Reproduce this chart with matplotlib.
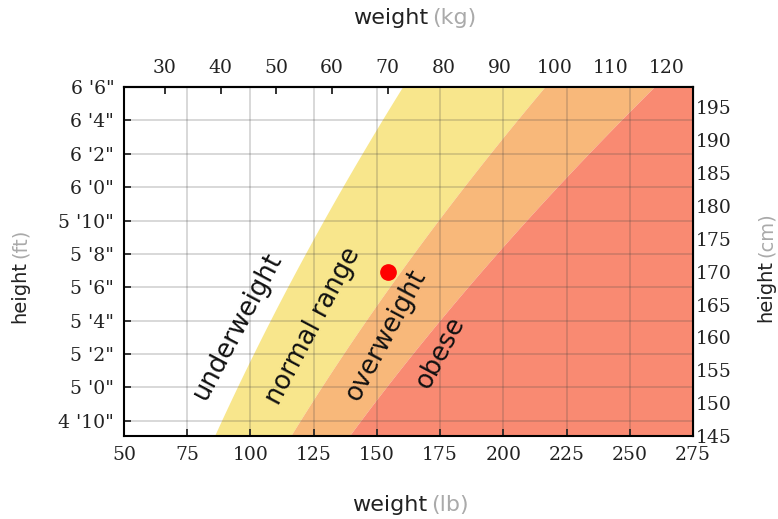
import numpy as np
import matplotlib.pyplot as plt

# BMI chart data
bmi_bounds = [18.5, 25, 30]
zone_names = ['underweight', 'normal range', 'overweight', 'obese']
zone_colors = ['#f8e68c', '#f8b87a', '#f98a72']

lb_ticks = [50, 75, 100, 125, 150, 175, 200, 225, 250, 275]
kg_ticks = [30, 40, 50, 60, 70, 80, 90, 100, 110, 120]
cm_ticks = [145, 150, 155, 160, 165, 170, 175, 180, 185, 190, 195]
inch_ticks = [58, 60, 62, 64, 66, 68, 70, 72, 74, 76, 78]

# the red dot: 70 kg, 170 cm
dot_kg = 70
dot_cm = 170

LB = 2.20462
fig = plt.figure(figsize=(7.78, 5.19), dpi=100, facecolor='white')
ax = fig.add_axes([124/778, 83/519, 569/778, 349/519])

ax.set_xlim(50, 275)
ax.set_ylim(145, 198.12)

# filled BMI zones (weight in lb as a function of height)
h = np.linspace(140, 200, 200)
m2 = (h / 100) ** 2
edges = [b * m2 * LB for b in bmi_bounds] + [np.full_like(h, 400)]
for i, c in enumerate(zone_colors):
    ax.fill_betweenx(h, edges[i], edges[i + 1], color=c, lw=0, zorder=1)

# grid: vertical at lb ticks, horizontal at ft/in ticks
for x in lb_ticks:
    ax.axvline(x, color='#444444', alpha=0.22, lw=1.3, zorder=2)
for i in inch_ticks:
    ax.axhline(i * 2.54, color='#444444', alpha=0.22, lw=1.3, zorder=2)

ax.plot(dot_kg * LB, dot_cm, 'o', color='#ff0000', ms=11, zorder=5)

# zone labels
label_pos = [(95.0, 161.8), (125.0, 161.8), (153.6, 160.4), (175.3, 157.7)]
for name, (x, y) in zip(zone_names, label_pos):
    ax.text(x, y, name, rotation=62, ha='center', va='center', fontsize=18.5,
            color='#111111', zorder=4)

serif = 'DejaVu Serif'
tfs = 13.5
ax.set_xticks(lb_ticks)
ax.set_xticklabels([str(v) for v in lb_ticks], family=serif, fontsize=tfs)
ax.set_yticks([i * 2.54 for i in inch_ticks])
ax.set_yticklabels([f"{i // 12} '{i % 12}\"" for i in inch_ticks], family=serif, fontsize=tfs)
ax.tick_params(direction='in', length=5, width=1.3, pad=7, colors='#222222')

top = ax.secondary_xaxis('top', functions=(lambda x: x / LB, lambda x: x * LB))
top.set_xticks(kg_ticks)
top.set_xticklabels([str(v) for v in kg_ticks], family=serif, fontsize=tfs)
top.tick_params(direction='in', length=5, width=1.3, pad=7, colors='#222222')

right = ax.secondary_yaxis('right')
right.set_yticks(cm_ticks)
right.set_yticklabels([str(v) for v in cm_ticks], family=serif, fontsize=tfs)
right.tick_params(direction='in', length=5, width=1.3, pad=2, colors='#222222')

for s in list(ax.spines.values()) + [top.spines['top'], right.spines['right']]:
    s.set_linewidth(1.5)

# axis titles, gray units
fs = 16
fig.text(428/778, 1 - 18/519, 'weight', ha='right', va='center', fontsize=fs, color='#222222')
fig.text(432/778, 1 - 18/519, '(kg)', ha='left', va='center', fontsize=fs, color='#aaaaaa')
fig.text(427/778, 1 - 505/519, 'weight', ha='right', va='center', fontsize=fs, color='#222222')
fig.text(431/778, 1 - 505/519, '(lb)', ha='left', va='center', fontsize=fs, color='#aaaaaa')
sfs = 14
fig.text(20/778, 1 - 261/519, 'height', ha='center', va='top', rotation=90, fontsize=sfs, color='#222222')
fig.text(20/778, 1 - 258/519, '(ft)', ha='center', va='bottom', rotation=90, fontsize=sfs, color='#aaaaaa')
fig.text(766/778, 1 - 260/519, 'height', ha='center', va='top', rotation=90, fontsize=sfs, color='#222222')
fig.text(766/778, 1 - 257/519, '(cm)', ha='center', va='bottom', rotation=90, fontsize=sfs, color='#aaaaaa')

plt.savefig('out.png', dpi=100)
